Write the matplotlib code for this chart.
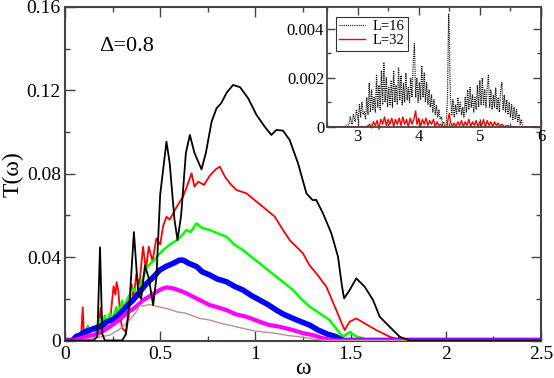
import numpy as np
import matplotlib
matplotlib.use("Agg")
import matplotlib.pyplot as plt
from matplotlib.ticker import MultipleLocator

plt.rcParams['font.family'] = ['Liberation Serif', 'DejaVu Serif']

# main panel: (omega, T)
black_main = [(0.00, 0.0), (0.15, 0.0), (0.17, 0.002), (0.184, 0.0447), (0.196, 0.003),
              (0.21, 0.0), (0.30, 0.0), (0.32, 0.003), (0.34, 0.02), (0.362, 0.052),
              (0.385, 0.022), (0.40, 0.02), (0.42, 0.036), (0.44, 0.03), (0.463, 0.017),
              (0.48, 0.03), (0.50, 0.07), (0.533, 0.0954), (0.55, 0.085), (0.575, 0.058),
              (0.591, 0.0482), (0.61, 0.06), (0.635, 0.09), (0.656, 0.0986), (0.68, 0.09),
              (0.717, 0.0821), (0.74, 0.09), (0.77, 0.105), (0.796, 0.1114), (0.82, 0.1138),
              (0.85, 0.119), (0.883, 0.1226), (0.92, 0.1215), (0.962, 0.1162), (1.006, 0.1082),
              (1.049, 0.1026), (1.084, 0.0986), (1.11, 0.101), (1.145, 0.1007), (1.18, 0.0962),
              (1.224, 0.085), (1.268, 0.0706), (1.30, 0.0674), (1.32, 0.0674), (1.355, 0.061),
              (1.399, 0.0514), (1.434, 0.0402), (1.455, 0.026), (1.466, 0.0202), (1.495, 0.0242),
              (1.53, 0.0298), (1.574, 0.0258), (1.618, 0.0194), (1.653, 0.0114), (1.705, 0.0066),
              (1.758, 0.0018), (1.81, 0.0), (2.5, 0.0)]

red_main = [(0.0, 0.0), (0.07, 0.0), (0.085, 0.002), (0.093, 0.016), (0.10, 0.002), (0.12, 0.003),
            (0.15, 0.005), (0.175, 0.004), (0.187, 0.0156), (0.20, 0.005), (0.22, 0.008),
            (0.24, 0.012), (0.255, 0.026), (0.265, 0.022), (0.271, 0.028), (0.28, 0.024),
            (0.29, 0.012), (0.30, 0.006), (0.32, 0.004), (0.335, 0.012), (0.35, 0.027),
            (0.36, 0.02), (0.375, 0.032), (0.39, 0.026), (0.41, 0.045), (0.425, 0.034),
            (0.44, 0.045), (0.46, 0.038), (0.48, 0.049), (0.50, 0.046), (0.515, 0.0546),
            (0.533, 0.0594), (0.55, 0.058), (0.586, 0.064), (0.62, 0.069), (0.645, 0.075),
            (0.665, 0.0802), (0.68, 0.0738), (0.70, 0.0762), (0.73, 0.0746), (0.76, 0.079),
            (0.79, 0.082), (0.813, 0.0834), (0.84, 0.0786), (0.87, 0.075), (0.90, 0.0722),
            (0.953, 0.0706), (1.006, 0.0666), (1.049, 0.0634), (1.102, 0.0594), (1.145, 0.053),
            (1.18, 0.0482), (1.215, 0.045), (1.25, 0.0418), (1.285, 0.036), (1.32, 0.0322),
            (1.373, 0.0258), (1.40, 0.02), (1.425, 0.0146), (1.45, 0.009), (1.469, 0.005),
            (1.495, 0.009), (1.53, 0.0106), (1.574, 0.0082), (1.635, 0.005), (1.705, 0.0018),
            (1.77, 0.0), (2.5, 0.0)]

green_main = [(0.0, 0.0), (0.03, 0.0), (0.05, 0.002), (0.07, 0.001), (0.09, 0.004), (0.10, 0.002),
              (0.12, 0.007), (0.13, 0.003), (0.149, 0.0066), (0.16, 0.004), (0.18, 0.01),
              (0.19, 0.005), (0.21, 0.012), (0.22, 0.007), (0.236, 0.013), (0.25, 0.01),
              (0.27, 0.016), (0.28, 0.012), (0.30, 0.019), (0.31, 0.015), (0.324, 0.019),
              (0.34, 0.022), (0.36, 0.025), (0.376, 0.022), (0.393, 0.026), (0.41, 0.03),
              (0.429, 0.035), (0.45, 0.037), (0.47, 0.0386), (0.49, 0.041), (0.516, 0.0434),
              (0.55, 0.046), (0.586, 0.048), (0.61, 0.05), (0.638, 0.053), (0.66, 0.052),
              (0.691, 0.0562), (0.72, 0.054), (0.761, 0.053), (0.80, 0.0515), (0.848, 0.0498),
              (0.89, 0.046), (0.935, 0.0434), (0.98, 0.04), (1.023, 0.037), (1.07, 0.0335),
              (1.11, 0.0306), (1.16, 0.027), (1.198, 0.0242), (1.24, 0.02), (1.285, 0.0162),
              (1.33, 0.0135), (1.39, 0.0098), (1.43, 0.005), (1.46, 0.0018), (1.495, 0.004),
              (1.53, 0.002), (1.60, 0.0), (2.5, 0.0)]

blue_main = [(0.0, 0.0), (0.04, 0.0), (0.06, 0.002), (0.079, 0.0026), (0.10, 0.004), (0.13, 0.005),
             (0.16, 0.006), (0.184, 0.0066), (0.22, 0.009), (0.25, 0.010), (0.271, 0.0114),
             (0.30, 0.014), (0.33, 0.017), (0.358, 0.0194), (0.39, 0.023), (0.429, 0.0274),
             (0.46, 0.030), (0.498, 0.0338), (0.53, 0.0355), (0.568, 0.037), (0.60, 0.0385),
             (0.62, 0.0386), (0.65, 0.037), (0.691, 0.0355), (0.72, 0.033), (0.761, 0.0314),
             (0.80, 0.0295), (0.848, 0.0282), (0.89, 0.026), (0.935, 0.0242), (0.98, 0.0215),
             (1.023, 0.0194), (1.07, 0.017), (1.11, 0.0146), (1.15, 0.0125), (1.198, 0.0106),
             (1.24, 0.009), (1.285, 0.0074), (1.33, 0.005), (1.38, 0.003), (1.425, 0.0018),
             (1.46, 0.0), (2.5, 0.0)]

magenta_main = [(0.0, 0.0), (0.04, 0.0), (0.08, 0.001), (0.12, 0.002), (0.149, 0.0026), (0.19, 0.004),
                (0.236, 0.0066), (0.28, 0.0095), (0.324, 0.013), (0.37, 0.016), (0.411, 0.0194),
                (0.45, 0.0215), (0.481, 0.0234), (0.51, 0.0248), (0.533, 0.0255), (0.57, 0.025),
                (0.62, 0.0234), (0.673, 0.021), (0.708, 0.0194), (0.76, 0.017), (0.80, 0.016),
                (0.848, 0.0146), (0.90, 0.0125), (0.953, 0.0114), (1.023, 0.009), (1.07, 0.0075),
                (1.128, 0.0066), (1.198, 0.005), (1.25, 0.0035), (1.303, 0.0026), (1.35, 0.0012),
                (1.41, 0.0), (2.5, 0.0)]

brown_main = [(0.0, 0.0), (0.10, 0.0), (0.15, 0.001), (0.20, 0.002), (0.236, 0.0026), (0.28, 0.005),
              (0.324, 0.0082), (0.35, 0.011), (0.376, 0.0138), (0.393, 0.017), (0.41, 0.0165),
              (0.429, 0.017), (0.45, 0.0172), (0.472, 0.0166), (0.50, 0.016), (0.533, 0.0154),
              (0.586, 0.0138), (0.638, 0.013), (0.708, 0.0106), (0.761, 0.0098), (0.82, 0.0082),
              (0.88, 0.007), (0.935, 0.0058), (1.00, 0.0045), (1.05, 0.004), (1.11, 0.0034),
              (1.17, 0.0024), (1.233, 0.0018), (1.30, 0.0008), (1.38, 0.0), (2.5, 0.0)]

# inset: (omega, T in units of 1e-3)
inset_L16 = [(2.50, 0.0), (2.80, 0.0), (2.86, 0.1), (2.88, 0.4), (2.91, 0.1), (2.93, 0.5), (2.96, 0.2),
             (2.98, 0.7), (3.01, 0.3), (3.03, 0.9), (3.05, 0.4), (3.07, 1.0), (3.09, 0.5), (3.11, 0.6),
             (3.13, 0.3), (3.15, 1.2), (3.17, 0.5), (3.19, 1.8), (3.21, 0.6), (3.23, 1.5), (3.25, 0.7),
             (3.27, 1.2), (3.29, 0.6), (3.31, 2.1), (3.33, 0.8), (3.35, 1.7), (3.37, 0.7), (3.39, 2.3),
             (3.41, 0.9), (3.43, 2.6), (3.45, 1.0), (3.47, 2.0), (3.49, 0.8), (3.51, 1.6), (3.53, 0.9),
             (3.55, 1.9), (3.57, 0.8), (3.59, 2.3), (3.61, 1.0), (3.63, 1.7), (3.65, 0.9), (3.67, 2.4),
             (3.69, 1.1), (3.71, 2.1), (3.73, 0.9), (3.75, 1.8), (3.77, 1.0), (3.79, 2.2), (3.81, 1.1),
             (3.83, 1.6), (3.85, 1.0), (3.87, 2.0), (3.89, 1.2), (3.91, 2.6), (3.93, 3.4), (3.95, 1.2),
             (3.97, 2.0), (3.99, 1.0), (4.01, 1.8), (4.03, 1.1), (4.05, 2.5), (4.07, 1.2), (4.09, 2.2),
             (4.11, 1.0), (4.13, 1.8), (4.15, 0.9), (4.17, 1.5), (4.19, 0.8), (4.21, 1.3), (4.23, 0.6),
             (4.25, 1.1), (4.27, 0.5), (4.29, 0.9), (4.31, 0.4), (4.33, 0.7), (4.35, 0.3), (4.37, 0.4),
             (4.39, 0.1), (4.41, 0.2), (4.43, 0.0), (4.45, 0.1), (4.47, 1.2), (4.48, 3.0), (4.49, 4.6),
             (4.50, 3.8), (4.51, 2.2), (4.52, 1.2), (4.54, 0.5), (4.56, 1.1), (4.58, 0.4), (4.60, 0.9),
             (4.62, 0.5), (4.64, 1.2), (4.66, 0.6), (4.68, 1.0), (4.70, 0.5), (4.72, 0.8), (4.74, 0.4),
             (4.76, 1.2), (4.78, 0.6), (4.80, 1.5), (4.82, 0.7), (4.84, 1.6), (4.86, 0.8), (4.88, 1.3),
             (4.90, 0.6), (4.92, 1.2), (4.94, 0.7), (4.96, 1.7), (4.98, 0.8), (5.00, 1.9), (5.02, 0.9),
             (5.04, 2.0), (5.06, 0.9), (5.08, 1.5), (5.10, 0.8), (5.12, 1.6), (5.14, 2.1), (5.16, 0.8),
             (5.18, 1.5), (5.20, 0.7), (5.22, 1.3), (5.24, 0.8), (5.26, 1.6), (5.28, 0.7), (5.30, 1.2),
             (5.32, 0.6), (5.34, 1.5), (5.36, 1.8), (5.38, 0.7), (5.40, 1.3), (5.42, 0.6), (5.44, 1.1),
             (5.46, 0.5), (5.48, 1.0), (5.50, 0.4), (5.52, 0.9), (5.54, 0.3), (5.56, 0.8), (5.58, 0.3),
             (5.60, 0.7), (5.62, 0.2), (5.64, 0.5), (5.66, 0.1), (5.68, 0.3), (5.70, 0.0), (6.00, 0.0)]

inset_L32 = [(2.50, 0.0), (3.15, 0.0), (3.20, 0.1), (3.23, -0.05), (3.26, 0.2), (3.29, 0.05), (3.32, 0.25),
             (3.35, -0.1), (3.38, 0.3), (3.41, 0.1), (3.44, 0.4), (3.47, 0.05), (3.50, 0.3), (3.53, 0.1),
             (3.56, 0.35), (3.59, 0.0), (3.62, 0.3), (3.65, 0.1), (3.68, 0.35), (3.71, 0.05), (3.74, 0.4),
             (3.77, 0.1), (3.80, 0.3), (3.83, 0.0), (3.86, 0.35), (3.89, 0.1), (3.92, 0.3), (3.95, 0.65),
             (3.97, 0.1), (4.00, 0.35), (4.03, 0.0), (4.06, 0.3), (4.09, 0.1), (4.12, 0.35), (4.15, 0.05),
             (4.18, 0.25), (4.21, 0.1), (4.24, 0.3), (4.27, 0.0), (4.30, 0.2), (4.33, 0.05), (4.36, 0.1),
             (4.40, 0.0), (4.46, 0.0), (4.48, 0.3), (4.50, 0.55), (4.52, 0.2), (4.55, 0.0), (4.58, 0.15),
             (4.61, 0.0), (4.64, 0.2), (4.67, 0.05), (4.70, 0.25), (4.73, 0.0), (4.76, 0.2), (4.79, 0.05),
             (4.82, 0.3), (4.85, 0.0), (4.88, 0.2), (4.91, 0.05), (4.94, 0.25), (4.97, 0.0), (5.00, 0.2),
             (5.03, 0.05), (5.06, 0.3), (5.09, 0.0), (5.12, 0.25), (5.15, 0.05), (5.18, 0.2), (5.21, 0.0),
             (5.24, 0.2), (5.27, 0.05), (5.30, 0.15), (5.33, 0.0), (5.36, 0.1), (5.40, 0.0), (5.45, 0.05),
             (5.50, 0.0), (6.00, 0.0)]

main_xticks = [0, 0.5, 1, 1.5, 2, 2.5]
main_xlabels = ['0', '0.5', '1', '1.5', '2', '2.5']
main_yticks = [0, 0.04, 0.08, 0.12, 0.16]
main_ylabels = ['0', '0.04', '0.08', '0.12', '0.16']
inset_xticks = [3, 4, 5, 6]
inset_xlabels = ['3', '4', '5', '6']
inset_yticks = [0, 0.002, 0.004]
inset_ylabels = ['0', '0.002', '0.004']

spine_col = '#444444'

fig = plt.figure(figsize=(5.54, 3.78), dpi=100)
ax = fig.add_axes([0.1173, 0.0992, 0.8592, 0.8823])

series = [(red_main, '#ff0000', 1.3, 2), (green_main, '#00ff00', 1.8, 3),
          (blue_main, '#0000ff', 4.0, 4), (magenta_main, '#ff00ff', 3.0, 5),
          (brown_main, '#bc8f8f', 1.0, 6), (black_main, '#000000', 1.3, 7)]
for data, col, lw, z in series:
    w, t = np.array(data).T
    ax.plot(w, t, color=col, lw=lw, zorder=z)

ax.set_xlim(0, 2.5)
ax.set_ylim(0, 0.16)
ax.set_xticks(main_xticks, main_xlabels)
ax.set_yticks(main_yticks, main_ylabels)
ax.xaxis.set_minor_locator(MultipleLocator(0.25))
ax.yaxis.set_minor_locator(MultipleLocator(0.02))
ax.tick_params(which='both', direction='in', top=True, right=True, color=spine_col, width=1)
ax.tick_params(which='major', length=7, labelsize=14, pad=4)
ax.tick_params(which='minor', length=3.5)
ax.tick_params(axis='y', which='major', pad=3)
for s in ax.spines.values():
    s.set_color(spine_col)
    s.set_linewidth(1.5)
ax.set_xlabel('ω', fontsize=17, labelpad=-4)
ax.set_ylabel('T(ω)', fontsize=17, labelpad=2)
ax.text(0.18, 0.141, 'Δ=0.8', fontsize=16, ha='left', va='center')

ins = fig.add_axes([0.5903, 0.6648, 0.3862, 0.3167])
w, t = np.array(inset_L16).T
ins.plot(w, t * 1e-3, color='black', lw=0.9, ls=(0, (0.8, 0.9)), label='L=16')
w, t = np.array(inset_L32).T
ins.plot(w, t * 1e-3, color='#ff0000', lw=1.0, label='L=32', clip_on=False)
ins.set_xlim(2.5, 6)
ins.set_ylim(0, 0.0049)
ins.set_xticks(inset_xticks, inset_xlabels)
ins.set_yticks(inset_yticks, inset_ylabels)
ins.xaxis.set_minor_locator(MultipleLocator(0.5))
ins.yaxis.set_minor_locator(MultipleLocator(0.001))
ins.tick_params(which='both', direction='in', top=True, right=True, color=spine_col, width=1)
ins.tick_params(which='major', length=6, labelsize=12, pad=2)
ins.tick_params(which='minor', length=3)
for s in ins.spines.values():
    s.set_color(spine_col)
    s.set_linewidth(1.3)
leg = ins.legend(loc='upper left', fontsize=10.5, frameon=True, fancybox=False,
                 handlelength=1.8, borderpad=0.25, labelspacing=0.05, handletextpad=0.5,
                 borderaxespad=0.0, bbox_to_anchor=(0.04, 0.92))
leg.get_frame().set_edgecolor('black')
leg.get_frame().set_linewidth(0.8)

fig.savefig('out.png', dpi=100)
